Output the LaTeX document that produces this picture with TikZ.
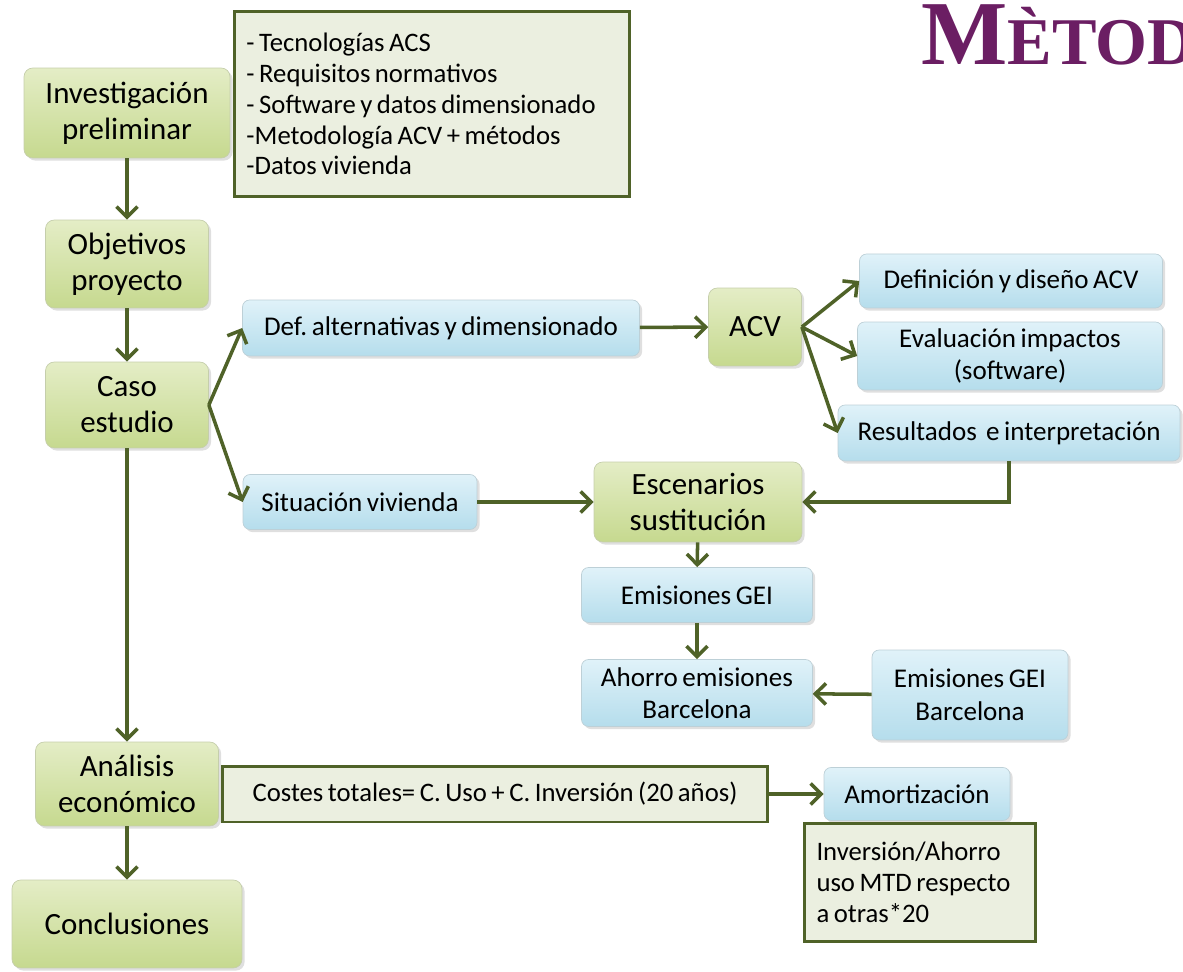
\documentclass[tikz,border=0pt]{standalone}
\usepackage{fontspec}
\setmainfont{Carlito}[WordSpace={0.75,0,0}]
\newfontfamily\titulofont{Liberation Serif}
\usetikzlibrary{arrows.meta,shadows}
\frenchspacing
\newcommand\espnormal{\spaceskip=0pt\xspaceskip=0pt\relax}
\definecolor{verdeosc}{HTML}{4F6228}
\definecolor{morado}{HTML}{6B1E63}
\definecolor{verdeA}{HTML}{E4EDC6}
\definecolor{verdeB}{HTML}{C6D98F}
\definecolor{azulA}{HTML}{E0F2F9}
\definecolor{azulB}{HTML}{B5DDEC}
\definecolor{grisverde}{HTML}{EBEFE0}
\tikzset{
  cajaverde/.style={rectangle, rounded corners=5pt, draw=verdeB!80!black!60, top color=verdeA, bottom color=verdeB,
    drop shadow={opacity=0.25, shadow xshift=1.5pt, shadow yshift=-1.5pt}, align=center,
    font=\fontsize{17.6}{20.5}\selectfont},
  cajaazul/.style={rectangle, rounded corners=4pt, draw=azulB!80!black!60, top color=azulA, bottom color=azulB,
    drop shadow={opacity=0.25, shadow xshift=1.5pt, shadow yshift=-1.5pt}, align=center,
    font=\fontsize{15.4}{18.5}\selectfont},
  notas/.style={rectangle, draw=verdeosc, line width=1.7pt, fill=grisverde, align=left,
    font=\fontsize{15.2}{17.6}\selectfont},
  flecha/.style={-{Straight Barb[length=6pt,width=12pt]}, draw=verdeosc, line width=2pt}
}
\begin{document}
\begin{tikzpicture}[x=0.02cm, y=-0.02cm]
  \useasboundingbox (0,0) rectangle (1183,972);
  \clip (0,0) rectangle (1183,972);
  % Titulo
  \node[anchor=base west, inner sep=0pt, text=morado, font=\titulofont\bfseries] (titulo) at (921,65)
    {\fontsize{52}{56}\selectfont M\fontsize{38}{42}\selectfont ÈTOD};
  % Columna principal
  \node[cajaverde, minimum width=4.12cm, minimum height=1.8cm] (inv) at (127,113) {Investigación\\preliminar};
  \node[cajaverde, minimum width=3.26cm, minimum height=1.76cm] (obj) at (127,264) {Objetivos\\proyecto};
  \node[cajaverde, minimum width=3.26cm, minimum height=1.72cm] (caso) at (127,405) {Caso\\estudio};
  \node[cajaverde, minimum width=3.66cm, minimum height=1.68cm] (anal) at (127,784) {Análisis\\económico};
  \node[cajaverde, minimum width=4.6cm, minimum height=1.76cm] (concl) at (127,924) {Conclusiones};
  % Notas
  \node[notas, anchor=north west, text width=7.42cm, minimum height=3.7cm, inner xsep=0.24cm] (lista) at (233,10)
    {\espnormal - Tecnologías ACS\\- Requisitos normativos\\- Software y datos dimensionado\\-Metodología ACV + métodos\\-Datos vivienda};
  % Rama ACV
  \node[cajaazul, minimum width=7.94cm, minimum height=1.12cm] (def) at (441,328) {Def. alternativas y dimensionado};
  \node[cajaverde, minimum width=1.86cm, minimum height=1.56cm] (acv) at (755,327) {ACV};
  \node[cajaazul, minimum width=6.06cm, minimum height=1.08cm] (disen) at (1011,281) {Definición y diseño ACV};
  \node[cajaazul, minimum width=6.1cm, minimum height=1.36cm] (eval) at (1010,356) {Evaluación impactos\\(software)};
  \node[cajaazul, minimum width=6.84cm, minimum height=1.12cm] (result) at (1009,433) {Resultados\ \ e interpretación};
  % Escenarios
  \node[cajaazul, minimum width=4.68cm, minimum height=1.1cm] (sit) at (360,502) {Situación vivienda};
  \node[cajaverde, minimum width=4.16cm, minimum height=1.6cm] (escen) at (698,502) {Escenarios\\sustitución};
  \node[cajaazul, minimum width=4.62cm, minimum height=1.1cm] (emis) at (697,595) {Emisiones GEI};
  \node[cajaazul, minimum width=4.62cm, minimum height=1.34cm] (ahorro) at (697,693) {Ahorro emisiones\\Barcelona};
  \node[cajaazul, minimum width=3.92cm, minimum height=1.8cm] (emisbcn) at (970,695) {Emisiones GEI\\Barcelona};
  % Costes
  \node[notas, minimum width=10.92cm, minimum height=1.12cm, align=center] (costes) at (495,794)
    {Costes totales= C. Uso + C. Inversión (20 años)};
  \node[cajaazul, minimum width=3.72cm, minimum height=1.06cm] (amort) at (917,794) {Amortización};
  \node[notas, anchor=north west, text width=4.14cm, minimum height=2.36cm, inner xsep=0.24cm] (inver) at (803,822)
    {\espnormal Inversión/Ahorro\\uso MTD respecto\\a otras*20};
  % Flechas
  \draw[flecha] (inv) -- (obj);
  \draw[flecha] (obj) -- (caso);
  \draw[flecha] (caso) -- (anal);
  \draw[flecha] (anal) -- (concl);
  \draw[flecha] (caso.east) -- (def.west);
  \draw[flecha] (caso.east) -- (sit.west);
  \draw[flecha] (def) -- (acv);
  \draw[flecha] (acv.east) -- (disen.west);
  \draw[flecha] (acv.east) -- (eval.west);
  \draw[flecha] (acv.east) -- (result.west);
  \draw[flecha] (result.south) |- (escen.east);
  \draw[flecha] (sit) -- (escen);
  \draw[flecha] (escen) -- (emis);
  \draw[flecha] (emis) -- (ahorro);
  \draw[flecha] (emisbcn) -- (ahorro);
  \draw[flecha] (costes) -- (amort);
\end{tikzpicture}
\end{document}
